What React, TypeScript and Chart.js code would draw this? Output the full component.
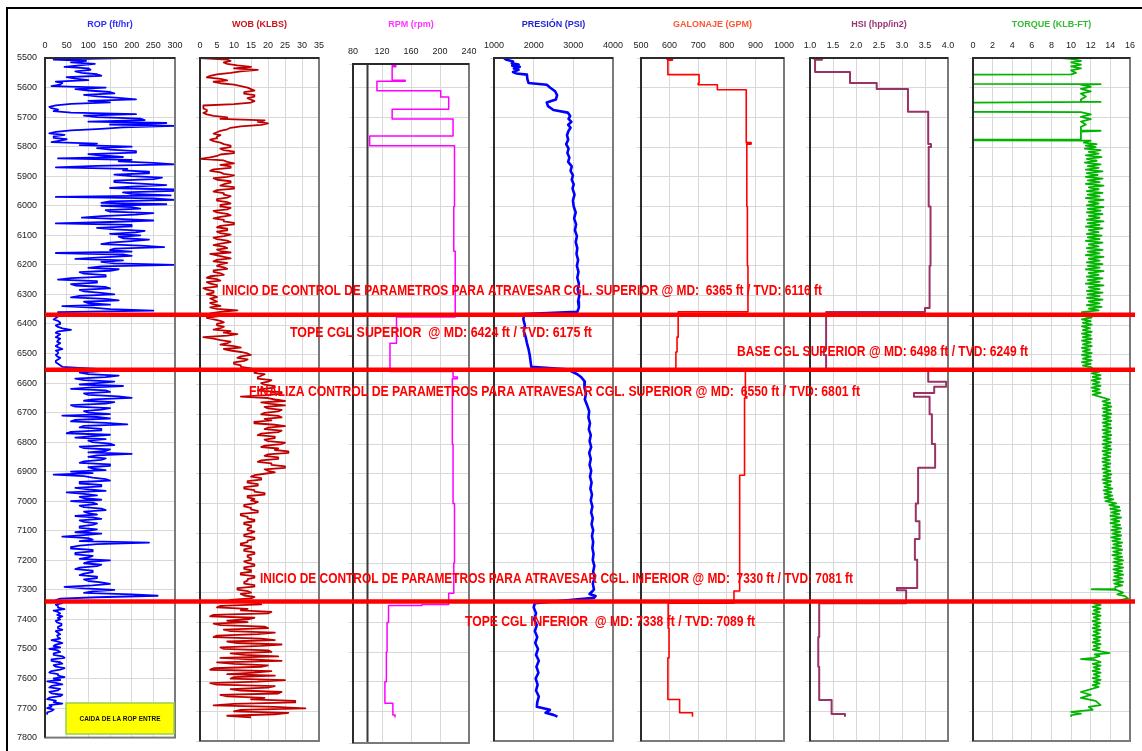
import { useEffect, useRef } from "react";
import { Chart, registerables } from "chart.js";

Chart.register(...registerables);

const PAGE_W = 1142;
const PAGE_H = 751;

// Measured depth axis (ft)
const DEPTH_TOP = 5500;
const DEPTH_BOTTOM = 7800;
const DEPTH_TICK = 100;

// ROP and WOB are logged every 5 ft starting at DEPTH_TOP
const SAMPLE_STEP = 5;

// ROP (ft/hr), one row per 100 ft
const ROP_FT_HR = [
  180, 20, 95, 60, 115, 80, 45, 100, 105, 70, 85, 120, 130, 50, 70, 100, 25, 40, 35, 15, // 5500
  140, 70, 100, 150, 160, 90, 120, 170, 210, 100, 150, 60, 25, 10, 15, 30, 20, 60, 210, 90, // 5600
  120, 220, 230, 100, 280, 150, 300, 180, 130, 60, 25, 10, 45, 20, 20, 50, 35, 15, 120, 80, // 5700
  200, 120, 150, 210, 210, 100, 130, 180, 30, 200, 170, 250, 300, 120, 25, 190, 180, 240, 240, 160, // 5800
  200, 270, 250, 160, 160, 220, 280, 200, 150, 300, 300, 180, 200, 290, 25, 250, 300, 150, 130, 280, // 5900
  130, 200, 220, 140, 150, 250, 210, 130, 85, 180, 250, 150, 25, 200, 200, 120, 160, 230, 210, 150, // 6000
  220, 170, 180, 240, 200, 150, 130, 220, 275, 160, 150, 200, 25, 180, 200, 130, 70, 180, 130, 160, // 6100
  300, 130, 100, 170, 150, 80, 90, 140, 140, 60, 30, 120, 120, 60, 70, 140, 150, 80, 90, 130, // 6200
  160, 80, 60, 140, 170, 90, 100, 150, 40, 110, 150, 250, 30, 60, 20, 30, 25, 20, 30, 35, // 6300
  35, 25, 30, 40, 60, 30, 25, 35, 30, 25, 35, 30, 28, 35, 30, 25, 32, 40, 25, 30, // 6400
  30, 25, 28, 35, 30, 25, 25, 30, 35, 40, 90, 150, 130, 80, 100, 170, 140, 70, 90, 160, // 6500
  120, 80, 180, 110, 60, 140, 150, 90, 100, 170, 200, 110, 90, 160, 140, 60, 70, 150, 130, 90, // 6600
  100, 150, 40, 120, 150, 70, 60, 140, 190, 90, 80, 130, 130, 60, 50, 150, 110, 70, 140, 100, // 6700
  110, 150, 160, 80, 90, 150, 140, 100, 200, 120, 100, 140, 130, 90, 80, 150, 150, 100, 110, 140, // 6800
  60, 110, 20, 90, 110, 140, 150, 80, 80, 130, 130, 70, 100, 140, 50, 90, 120, 80, 90, 130, // 6900
  60, 110, 120, 80, 90, 130, 140, 90, 100, 120, 70, 110, 130, 80, 90, 120, 110, 80, 80, 120, // 7000
  100, 70, 130, 90, 40, 100, 110, 80, 240, 120, 80, 60, 60, 110, 110, 70, 70, 110, 100, 80, // 7100
  150, 100, 90, 130, 120, 80, 70, 110, 110, 90, 80, 120, 120, 90, 100, 130, 150, 110, 45, 90, // 7200
  160, 110, 90, 200, 260, 120, 35, 25, 30, 40, 25, 30, 30, 45, 20, 30, 35, 28, 40, 30, // 7300
  35, 25, 28, 38, 38, 30, 30, 40, 25, 30, 35, 28, 30, 35, 15, 30, 40, 25, 20, 35, // 7400
  10, 30, 35, 20, 20, 40, 45, 15, 15, 35, 40, 20, 25, 45, 35, 15, 10, 30, 30, 45, // 7500
  20, 35, 5, 25, 40, 15, 10, 35, 30, 10, 15, 40, 35, 10, 5, 25, 20, 40, 10, 15, // 7600
  5, 20, 15, 5, 5, // 7700
];

// WOB (klbs), one row per 100 ft
const WOB_KLBS = [
  0, 8, 9, 7, 8, 11, 15, 10, 17, 12, 9, 5, 3, 2, 6, 8, 4, 6, 10, 12, // 5500
  14, 15, 16, 13, 13, 16, 16, 14, 15, 16, 15, 10, 1, 1, 1, 2, 2, 1, 2, 4, // 5600
  8, 6, 19, 17, 20, 18, 12, 9, 8, 6, 5, 4, 6, 5, 5, 3, 4, 6, 7, 9, // 5700
  9, 6, 7, 10, 10, 6, 5, 3, 0, 7, 8, 10, 6, 9, 9, 4, 3, 6, 7, 10, // 5800
  8, 4, 5, 9, 9, 7, 6, 10, 10, 5, 4, 7, 7, 9, 8, 5, 5, 8, 9, 6, // 5900
  6, 9, 8, 4, 5, 8, 9, 6, 4, 7, 7, 10, 10, 6, 5, 8, 8, 5, 6, 9, // 6000
  7, 4, 5, 8, 9, 6, 4, 7, 8, 5, 6, 9, 3, 5, 7, 9, 5, 4, 8, 6, // 6100
  5, 7, 8, 4, 4, 6, 7, 3, 2, 5, 6, 2, 3, 5, 5, 1, 2, 4, 4, 2, // 6200
  4, 5, 3, 4, 5, 3, 4, 6, 3, 5, 11, 6, 3, 5, 5, 2, 4, 6, 7, 5, // 6300
  5, 7, 6, 4, 9, 7, 11, 8, 1, 4, 6, 9, 8, 6, 10, 12, 7, 9, 12, 14, // 6400
  15, 12, 11, 14, 13, 10, 10, 12, 12, 15, 14, 17, 16, 19, 18, 17, 17, 21, 20, 18, // 6500
  19, 22, 22, 18, 17, 24, 24, 20, 12, 20, 22, 25, 18, 21, 25, 19, 20, 24, 23, 19, // 6600
  18, 23, 24, 19, 21, 16, 16, 22, 25, 20, 19, 24, 23, 18, 17, 22, 22, 19, 20, 25, // 6700
  24, 19, 18, 23, 22, 26, 26, 20, 19, 23, 23, 18, 17, 21, 21, 25, 25, 19, 20, 22, // 6800
  19, 16, 15, 18, 18, 14, 14, 17, 17, 13, 13, 16, 16, 19, 19, 14, 14, 16, 15, 17, // 6900
  16, 13, 13, 15, 15, 17, 17, 12, 12, 14, 14, 16, 16, 13, 13, 15, 15, 14, 14, 16, // 7000
  15, 13, 13, 16, 16, 14, 14, 12, 12, 15, 15, 13, 13, 16, 16, 14, 14, 15, 15, 13, // 7100
  14, 16, 16, 13, 13, 15, 15, 12, 12, 16, 16, 14, 14, 13, 13, 16, 16, 11, 11, 14, // 7200
  15, 12, 13, 16, 15, 9, 8, 17, 18, 6, 5, 14, 12, 21, 20, 4, 3, 16, 14, 8, // 7300
  14, 4, 6, 19, 20, 7, 9, 22, 17, 5, 4, 18, 22, 8, 11, 24, 18, 6, 7, 20, // 7400
  21, 9, 13, 23, 6, 15, 24, 5, 10, 20, 18, 4, 3, 21, 16, 8, 22, 10, 9, 25, // 7500
  17, 3, 5, 22, 20, 9, 12, 24, 23, 6, 8, 19, 15, 28, 28, 10, 4, 22, 31, 12, // 7600
  10, 26, 22, 8, 15, // 7700
];

// Step curves: [depth where the value starts, value]
const RPM_STEPS: [number, number][] = [
  [5520, 134], [5525, 139], [5529, 134], [5575, 152], [5578, 113], [5610, 201],
  [5631, 212], [5672, 134], [5705, 218], [5762, 103], [5795, 220], [6000, 219],
  [6150, 221], [6372, 140], [6460, 131], [6555, 218], [6574, 224], [6580, 217],
  [6800, 218], [7000, 220], [7200, 219], [7302, 212], [7340, 175], [7343, 129],
  [7400, 127], [7500, 126], [7600, 124], [7672, 135], [7712, 138], [7720, 138],
];

// Standpipe pressure (psi): [depth, value]
const PRESION_PSI: [number, number][] = [
  [5500, 1250], [5505, 1300], [5512, 1480], [5518, 1450], [5522, 1620], [5526, 1460],
  [5530, 1650], [5535, 1500], [5540, 1620], [5547, 1480], [5552, 1560], [5556, 1830],
  [5570, 1840], [5584, 1870], [5590, 2330], [5600, 2420], [5612, 2540], [5625, 2590],
  [5640, 2560], [5650, 2330], [5662, 2360], [5675, 2500], [5684, 2860], [5695, 2920],
  [5705, 2880], [5715, 2950], [5725, 2870], [5735, 2930], [5745, 2880], [5760, 2840],
  [5775, 2870], [5790, 2820], [5805, 2880], [5820, 2850], [5835, 2900], [5850, 2870],
  [5865, 2960], [5880, 2930], [5895, 2990], [5910, 2960], [5925, 3010], [5940, 2980],
  [5960, 3030], [5980, 2990], [6000, 3010], [6020, 3060], [6040, 3020], [6060, 3070],
  [6080, 3040], [6100, 3090], [6120, 3060], [6140, 3100], [6160, 3080], [6180, 3120],
  [6200, 3090], [6220, 3130], [6240, 3100], [6260, 3140], [6280, 3110], [6300, 3150],
  [6320, 3120], [6340, 3140], [6355, 3100], [6362, 1760], [6380, 1740], [6400, 1780],
  [6420, 1750], [6440, 1800], [6460, 1830], [6480, 1870], [6500, 1900], [6520, 1920],
  [6540, 1940], [6548, 2840], [6555, 2950], [6565, 3100], [6575, 3200], [6590, 3290],
  [6610, 3280], [6630, 3320], [6650, 3290], [6670, 3350], [6690, 3400], [6710, 3380],
  [6730, 3420], [6750, 3390], [6770, 3440], [6790, 3410], [6810, 3450], [6830, 3400],
  [6850, 3440], [6870, 3410], [6890, 3450], [6910, 3420], [6930, 3460], [6950, 3430],
  [6970, 3470], [6990, 3440], [7010, 3480], [7030, 3450], [7050, 3490], [7070, 3460],
  [7090, 3500], [7110, 3470], [7130, 3500], [7150, 3480], [7170, 3510], [7190, 3490],
  [7210, 3530], [7230, 3500], [7250, 3540], [7270, 3490], [7290, 3520], [7305, 3410],
  [7312, 3560], [7318, 3520], [7336, 2030], [7350, 2000], [7370, 2060], [7390, 2010],
  [7410, 2080], [7430, 2030], [7450, 2090], [7470, 2040], [7490, 2110], [7510, 2060],
  [7530, 2130], [7550, 2070], [7570, 2120], [7590, 2050], [7610, 2100], [7630, 2060],
  [7650, 2130], [7670, 2090], [7685, 2080], [7695, 2410], [7705, 2300], [7712, 2500],
  [7718, 2600],
];

// Flow rate (gpm)
const GALONAJE_STEPS: [number, number][] = [
  [5500, 590], [5503, 610], [5507, 594], [5556, 703], [5585, 700], [5590, 767],
  [5607, 868], [5785, 885], [5790, 870], [6000, 872], [6200, 874], [6355, 630],
  [6440, 626], [6490, 622], [6551, 865], [6640, 870], [6645, 862], [6905, 845],
  [7295, 825], [7336, 595], [7420, 598], [7520, 594], [7660, 635], [7705, 680],
  [7718, 680],
];

// Hydraulic horsepower per square inch (hhp/in2)
const HSI_STEPS: [number, number][] = [
  [5500, 1.07], [5502, 1.26], [5506, 1.11], [5547, 1.87], [5584, 2.45], [5604, 3.13],
  [5681, 3.57], [5790, 3.63], [5800, 3.58], [6000, 3.62], [6200, 3.6], [6342, 3.5],
  [6355, 1.35], [6480, 1.3], [6500, 1.35], [6551, 3.57], [6590, 3.96], [6607, 3.7],
  [6628, 3.26], [6641, 3.6], [6700, 3.65], [6800, 3.72], [6880, 3.35], [7000, 3.3],
  [7060, 3.38], [7120, 3.28], [7190, 3.33], [7285, 2.89], [7292, 3.09], [7336, 1.2],
  [7450, 1.18], [7550, 1.2], [7662, 1.47], [7709, 1.76], [7718, 1.76],
];

// Torque (klb-ft): [depth, value]
const TORQUE_KLB_FT: [number, number][] = [
  [5500, 9], [5503, 10], [5510, 11], [5515, 10], [5522, 11], [5528, 10], [5535, 11],
  [5542, 10], [5550, 10.5], [5555, 10], [5556, 0], [5587, 0], [5588, 13], [5590, 11],
  [5597, 12], [5604, 11], [5612, 12], [5620, 11], [5630, 11.5], [5640, 11], [5647, 11],
  [5648, 13], [5650, 0], [5681, 0], [5682, 11], [5690, 12], [5698, 11], [5706, 12],
  [5714, 11], [5724, 11.5], [5732, 11], [5744, 11], [5745, 13], [5748, 11], [5774, 11],
  [5775, 0], [5777, 0], [5778, 12], [5785, 11.3], [5790, 12.6], [5795, 11.5], [5800, 12.5],
  [5805, 11.4], [5810, 13], [5816, 11.8], [5822, 12.8], [5828, 11.5], [5834, 13.1], [5840, 11.6],
  [5846, 12.6], [5852, 11.4], [5858, 13], [5864, 11.7], [5870, 12.8], [5876, 11.5], [5882, 13.2],
  [5888, 11.6], [5894, 12.7], [5900, 11.5], [5906, 13.2], [5912, 11.7], [5918, 12.9], [5924, 11.5],
  [5930, 13.3], [5936, 11.8], [5942, 12.8], [5948, 11.6], [5954, 13.2], [5960, 11.7], [5966, 12.9],
  [5972, 11.5], [5978, 13.3], [5984, 11.8], [5990, 12.8], [5996, 11.6], [6002, 13.3], [6008, 11.7],
  [6014, 13], [6020, 11.6], [6026, 13.2], [6032, 11.8], [6038, 12.9], [6044, 11.6], [6050, 13.3],
  [6056, 11.7], [6062, 12.9], [6068, 11.5], [6074, 13.2], [6080, 11.8], [6086, 12.8], [6092, 11.6],
  [6098, 13.1], [6104, 11.7], [6110, 12.9], [6116, 11.5], [6122, 13.2], [6128, 11.8], [6134, 12.8],
  [6140, 11.6], [6146, 13.2], [6152, 11.7], [6158, 12.9], [6164, 11.5], [6170, 13.3], [6176, 11.8],
  [6182, 12.9], [6188, 11.6], [6194, 13.2], [6200, 11.7], [6206, 12.9], [6212, 11.5], [6218, 13.3],
  [6224, 11.8], [6230, 12.8], [6236, 11.6], [6242, 13.2], [6248, 11.7], [6254, 12.9], [6260, 11.5],
  [6266, 13.3], [6272, 11.8], [6278, 12.9], [6284, 11.6], [6290, 13.2], [6296, 11.7], [6302, 12.9],
  [6308, 11.6], [6314, 13.2], [6320, 11.8], [6326, 12.9], [6332, 11.6], [6338, 13.1], [6344, 11.8],
  [6350, 12.8], [6356, 11.1], [6362, 12], [6368, 11.2], [6374, 12.1], [6380, 11.1], [6386, 12],
  [6392, 11.2], [6398, 12.1], [6404, 11.1], [6410, 11.9], [6416, 11.2], [6422, 12.1], [6428, 11.1],
  [6434, 12], [6440, 11.2], [6446, 12.1], [6452, 11.1], [6458, 12], [6464, 11.2], [6470, 12.1],
  [6476, 11.1], [6482, 11.9], [6488, 11.2], [6494, 12.1], [6500, 11.1], [6506, 12], [6512, 11.2],
  [6518, 12.1], [6524, 11.1], [6530, 12], [6536, 11.2], [6542, 12.1], [6550, 12.2], [6556, 12.9],
  [6562, 12.1], [6568, 13], [6574, 12.2], [6580, 13], [6586, 12.1], [6592, 12.9], [6598, 12.2],
  [6604, 13], [6610, 12.1], [6616, 12.9], [6622, 12.2], [6628, 13], [6634, 12.2], [6640, 12.9],
  [6650, 13.9], [6656, 13.2], [6662, 14], [6668, 13.3], [6674, 14.1], [6680, 13.2], [6686, 14],
  [6692, 13.3], [6698, 14.1], [6704, 13.2], [6710, 14], [6716, 13.3], [6722, 14.1], [6728, 13.2],
  [6734, 14], [6740, 13.3], [6746, 14.1], [6752, 13.2], [6758, 14], [6764, 13.3], [6770, 14.1],
  [6776, 13.2], [6782, 14], [6788, 13.3], [6794, 14.1], [6800, 13.2], [6806, 14], [6812, 13.3],
  [6818, 14.1], [6824, 13.2], [6830, 14], [6836, 13.3], [6842, 14], [6848, 13.2], [6854, 13.9],
  [6860, 13.2], [6866, 14], [6872, 13.3], [6878, 13.9], [6884, 13.2], [6890, 14], [6896, 13.3],
  [6902, 14.1], [6908, 13.3], [6914, 14], [6920, 13.2], [6926, 14.1], [6932, 13.3], [6938, 14],
  [6944, 13.4], [6950, 14.2], [6956, 13.3], [6962, 14.1], [6968, 13.4], [6974, 14.2], [6980, 13.4],
  [6986, 14.3], [6992, 13.5], [7000, 14.6], [7006, 13.9], [7012, 14.9], [7018, 14], [7024, 15],
  [7030, 14.1], [7036, 14.9], [7042, 14], [7048, 15.1], [7054, 14.1], [7060, 14.9], [7066, 14],
  [7072, 15], [7078, 14.2], [7084, 15.1], [7090, 14.1], [7096, 15], [7102, 14.2], [7108, 15.1],
  [7114, 14.1], [7120, 15], [7126, 14.2], [7132, 15.2], [7138, 14.3], [7144, 15.1], [7150, 14.2],
  [7156, 15.2], [7162, 14.3], [7168, 15.1], [7174, 14.2], [7180, 15.2], [7186, 14.4], [7192, 15.3],
  [7198, 14.3], [7204, 15.2], [7210, 14.4], [7216, 15.3], [7222, 14.3], [7228, 15.2], [7234, 14.4],
  [7240, 15.3], [7246, 14.4], [7252, 15.2], [7258, 14.3], [7264, 15.3], [7270, 14.4], [7276, 15.2],
  [7282, 14.5], [7288, 14.5], [7289, 12.1], [7291, 14.6], [7300, 15.3], [7306, 14.7], [7312, 15.5],
  [7320, 15.8], [7326, 15], [7336, 12.2], [7342, 13], [7348, 12.2], [7354, 13], [7360, 12.3],
  [7366, 12.9], [7372, 12.2], [7378, 13], [7384, 12.3], [7390, 12.9], [7396, 12.2], [7402, 13],
  [7408, 12.3], [7414, 12.9], [7420, 12.2], [7426, 13], [7432, 12.3], [7438, 12.9], [7444, 12.2],
  [7450, 13], [7456, 12.3], [7462, 12.9], [7468, 12.2], [7474, 13], [7480, 12.3], [7486, 12.9],
  [7492, 12.2], [7498, 13], [7504, 13.9], [7508, 12.4], [7514, 12.9], [7520, 12.3], [7524, 11],
  [7528, 12.5], [7534, 13], [7540, 12.2], [7546, 13], [7552, 12.3], [7558, 12.9], [7564, 12.2],
  [7570, 13], [7576, 12.3], [7582, 12.9], [7588, 12.2], [7594, 13], [7600, 12.3], [7606, 12.9],
  [7612, 12.2], [7618, 12.8], [7624, 12.2], [7635, 11], [7645, 12], [7655, 11], [7665, 12.5],
  [7679, 13], [7685, 11.8], [7695, 12.2], [7702, 10], [7708, 11], [7713, 10], [7716, 10],
];

// Formation / control markers (MD, ft)
const MARKER_DEPTHS = [6365, 6550, 7330];

const ANNOTATION_TEXTS = [
  "INICIO DE CONTROL DE PARAMETROS PARA ATRAVESAR CGL. SUPERIOR @ MD:  6365 ft / TVD: 6116 ft",
  "TOPE CGL SUPERIOR  @ MD: 6424 ft / TVD: 6175 ft",
  "BASE CGL SUPERIOR @ MD: 6498 ft / TVD: 6249 ft",
  "FINALIZA CONTROL DE PARAMETROS PARA ATRAVESAR CGL. SUPERIOR @ MD:  6550 ft / TVD: 6801 ft",
  "INICIO DE CONTROL DE PARAMETROS PARA ATRAVESAR CGL. INFERIOR @ MD:  7330 ft / TVD: 7081 ft",
  "TOPE CGL INFERIOR  @ MD: 7338 ft / TVD: 7089 ft",
];
const NOTE_TEXT = "CAIDA DE LA ROP ENTRE";

// ---- layout & styling ----
const ANNOTATION_LAYOUT = [
  { left: 222, width: 600, y: 291 },
  { left: 290, width: 302, y: 333 },
  { left: 737, width: 291, y: 352 },
  { left: 249, width: 611, y: 392 },
  { left: 260, width: 593, y: 579 },
  { left: 465, width: 290, y: 622 },
];
const NOTE_BOX = { left: 66, top: 703, width: 108, height: 31, textWidth: 81 };

const TITLE_TOP = 19;
const GRID_COLOR = "#d9d9d9";
const FONT_FAMILY = '"Liberation Sans", Arial, sans-serif';

type Pt = { x: number; y: number };

const fromSamples = (values: number[]): Pt[] =>
  values.map((v, i) => ({ x: v, y: DEPTH_TOP + i * SAMPLE_STEP }));
const fromPairs = (pairs: [number, number][]): Pt[] =>
  pairs.map(([d, v]) => ({ x: v, y: d }));

interface Track {
  title: string;
  titleColor: string;
  lineColor: string;
  lineWidth: number;
  min: number;
  max: number;
  step: number;
  decimals: number;
  stepped: boolean;
  points: Pt[];
  left: number;
  right: number;
  top: number;
  bottom: number;
  depthMin: number;
  depthMax: number;
  depthLabels: boolean;
  innerRule: number | null;
}

const TRACKS: Track[] = [
  {
    title: "ROP (ft/hr)", titleColor: "#2b2bff", lineColor: "#0000ff", lineWidth: 1.8,
    min: 0, max: 300, step: 50, decimals: 0, stepped: false, points: fromSamples(ROP_FT_HR),
    left: 45, right: 175, top: 58, bottom: 741, depthMin: DEPTH_TOP, depthMax: DEPTH_BOTTOM,
    depthLabels: true, innerRule: null,
  },
  {
    title: "WOB (KLBS)", titleColor: "#c8141e", lineColor: "#c00000", lineWidth: 1.8,
    min: 0, max: 35, step: 5, decimals: 0, stepped: false, points: fromSamples(WOB_KLBS),
    left: 200, right: 319, top: 58, bottom: 741, depthMin: DEPTH_TOP, depthMax: DEPTH_BOTTOM,
    depthLabels: false, innerRule: null,
  },
  {
    title: "RPM (rpm)", titleColor: "#ff33ff", lineColor: "#ff00ff", lineWidth: 1.5,
    min: 80, max: 240, step: 40, decimals: 0, stepped: true, points: fromPairs(RPM_STEPS),
    left: 353, right: 469, top: 64, bottom: 743, depthMin: 5520, depthMax: 7806,
    depthLabels: false, innerRule: 100,
  },
  {
    title: "PRESIÓN (PSI)", titleColor: "#1f1fd6", lineColor: "#0000ff", lineWidth: 2.6,
    min: 1000, max: 4000, step: 1000, decimals: 0, stepped: false, points: fromPairs(PRESION_PSI),
    left: 494, right: 613, top: 58, bottom: 741, depthMin: DEPTH_TOP, depthMax: DEPTH_BOTTOM,
    depthLabels: false, innerRule: null,
  },
  {
    title: "GALONAJE (GPM)", titleColor: "#ff5533", lineColor: "#ff0000", lineWidth: 1.6,
    min: 500, max: 1000, step: 100, decimals: 0, stepped: true, points: fromPairs(GALONAJE_STEPS),
    left: 641, right: 784, top: 58, bottom: 741, depthMin: DEPTH_TOP, depthMax: DEPTH_BOTTOM,
    depthLabels: false, innerRule: null,
  },
  {
    title: "HSI (hpp/in2)", titleColor: "#9a3472", lineColor: "#993366", lineWidth: 2,
    min: 1, max: 4, step: 0.5, decimals: 1, stepped: true, points: fromPairs(HSI_STEPS),
    left: 810, right: 948, top: 58, bottom: 741, depthMin: DEPTH_TOP, depthMax: DEPTH_BOTTOM,
    depthLabels: false, innerRule: null,
  },
  {
    title: "TORQUE (KLB-FT)", titleColor: "#33bb33", lineColor: "#00b400", lineWidth: 1.8,
    min: 0, max: 16, step: 2, decimals: 0, stepped: false, points: fromPairs(TORQUE_KLB_FT),
    left: 973, right: 1133, top: 58, bottom: 741, depthMin: DEPTH_TOP, depthMax: DEPTH_BOTTOM,
    depthLabels: false, innerRule: null,
  },
];

// Draws the panel border (and the optional extra rule inside the RPM track)
const trackFrame = {
  id: "trackFrame",
  afterDatasetsDraw(chart: any, _args: unknown, opts: any) {
    const { ctx, chartArea: a } = chart;
    ctx.save();
    ctx.lineWidth = 2;
    if (opts && typeof opts.innerRule === "number") {
      const x = chart.scales.x.getPixelForValue(opts.innerRule);
      ctx.strokeStyle = "#3a3a3a";
      ctx.beginPath();
      ctx.moveTo(x, a.top);
      ctx.lineTo(x, a.bottom);
      ctx.stroke();
    }
    ctx.strokeStyle = "#7a7a7a";
    ctx.strokeRect(a.left, a.top, a.right - a.left, a.bottom - a.top);
    ctx.strokeStyle = "#2b2b2b";
    ctx.beginPath();
    ctx.moveTo(a.left, a.bottom);
    ctx.lineTo(a.left, a.top);
    ctx.lineTo(a.right, a.top);
    ctx.stroke();
    ctx.restore();
  },
};

// Red marker captions and the yellow note box
const annotationLayer = {
  id: "annotationLayer",
  afterDatasetsDraw(chart: any) {
    const { ctx } = chart;
    ctx.save();
    ctx.fillStyle = "#ff0000";
    ctx.textBaseline = "middle";
    ctx.textAlign = "left";
    ctx.font = `bold 14px ${FONT_FAMILY}`;
    ANNOTATION_TEXTS.forEach((text, i) => {
      const b = ANNOTATION_LAYOUT[i];
      const w = ctx.measureText(text).width;
      ctx.save();
      ctx.translate(b.left, b.y);
      ctx.scale(b.width / w, 1);
      ctx.fillText(text, 0, 0);
      ctx.restore();
    });

    const n = NOTE_BOX;
    ctx.fillStyle = "#ffff00";
    ctx.fillRect(n.left, n.top, n.width, n.height);
    ctx.strokeStyle = "#9ccf4a";
    ctx.lineWidth = 1.5;
    ctx.strokeRect(n.left, n.top, n.width, n.height);
    ctx.fillStyle = "#111";
    ctx.font = `bold 8px ${FONT_FAMILY}`;
    ctx.textAlign = "center";
    const tw = ctx.measureText(NOTE_TEXT).width;
    ctx.save();
    ctx.translate(n.left + n.width / 2, n.top + n.height / 2);
    ctx.scale(n.textWidth / tw, 1);
    ctx.fillText(NOTE_TEXT, 0, 0);
    ctx.restore();
    ctx.restore();
  },
};

function trackConfig(t: Track): any {
  const yWidth = t.depthLabels ? t.left : 5;
  return {
    type: "line",
    data: {
      datasets: [
        {
          data: t.points,
          borderColor: t.lineColor,
          borderWidth: t.lineWidth,
          borderJoinStyle: "round",
          pointRadius: 0,
          fill: false,
          tension: 0,
          stepped: t.stepped ? "after" : false,
        },
      ],
    },
    options: {
      responsive: false,
      animation: false,
      devicePixelRatio: 1,
      events: [],
      indexAxis: "y",
      layout: {
        padding: {
          left: t.left - yWidth,
          right: PAGE_W - t.right,
          top: TITLE_TOP,
          bottom: PAGE_H - t.bottom,
        },
      },
      plugins: {
        legend: { display: false },
        tooltip: { enabled: false },
        trackFrame: { innerRule: t.innerRule },
      },
      scales: {
        x: {
          type: "linear",
          position: "top",
          min: t.min,
          max: t.max,
          afterFit: (s: any) => {
            s.height = t.top - TITLE_TOP;
          },
          ticks: {
            stepSize: t.step,
            autoSkip: false,
            maxRotation: 0,
            padding: 7,
            color: "#222",
            font: { family: FONT_FAMILY, size: 9 },
            callback: (v: number) => Number(v).toFixed(t.decimals),
          },
          grid: { color: GRID_COLOR, lineWidth: 1, drawTicks: false },
          border: { display: false },
          title: {
            display: true,
            text: t.title,
            color: t.titleColor,
            padding: 0,
            font: { family: FONT_FAMILY, size: 9, weight: "bold" },
          },
        },
        y: {
          type: "linear",
          reverse: true,
          min: t.depthMin,
          max: t.depthMax,
          afterFit: (s: any) => {
            s.width = yWidth;
          },
          ticks: {
            stepSize: DEPTH_TICK,
            display: t.depthLabels,
            padding: 8,
            color: "#222",
            font: { family: FONT_FAMILY, size: 9 },
            callback: (v: number) => String(v),
          },
          grid: {
            color: GRID_COLOR,
            lineWidth: 1,
            drawTicks: !t.depthLabels,
            tickLength: 4,
          },
          border: { display: false },
        },
      },
    },
    plugins: [trackFrame],
  };
}

function overlayConfig(): any {
  const first = TRACKS[0];
  return {
    type: "line",
    data: {
      datasets: MARKER_DEPTHS.map((d) => ({
        data: [
          { x: 0, y: d },
          { x: 1, y: d },
        ],
        borderColor: "#ff0000",
        borderWidth: 4.5,
        pointRadius: 0,
        fill: false,
      })),
    },
    options: {
      responsive: false,
      animation: false,
      devicePixelRatio: 1,
      events: [],
      layout: {
        padding: { left: first.left, right: 7, top: first.top, bottom: PAGE_H - first.bottom },
      },
      plugins: { legend: { display: false }, tooltip: { enabled: false } },
      scales: {
        x: { type: "linear", min: 0, max: 1, display: false },
        y: { type: "linear", min: DEPTH_TOP, max: DEPTH_BOTTOM, reverse: true, display: false },
      },
    },
    plugins: [annotationLayer],
  };
}

const canvasStyle: React.CSSProperties = {
  position: "absolute",
  left: 0,
  top: 0,
  width: PAGE_W,
  height: PAGE_H,
};

export default function App() {
  const trackRefs = useRef<(HTMLCanvasElement | null)[]>([]);
  const overlayRef = useRef<HTMLCanvasElement | null>(null);

  useEffect(() => {
    const charts: Chart[] = [];
    TRACKS.forEach((t, i) => {
      const c = trackRefs.current[i];
      if (c) charts.push(new Chart(c, trackConfig(t)));
    });
    if (overlayRef.current) charts.push(new Chart(overlayRef.current, overlayConfig()));
    return () => charts.forEach((c) => c.destroy());
  }, []);

  return (
    <div
      style={{
        position: "absolute",
        left: 0,
        top: 0,
        width: PAGE_W,
        height: PAGE_H,
        overflow: "hidden",
        background: "#fff",
      }}
    >
      <div
        style={{
          position: "absolute",
          left: 6,
          top: 7,
          width: PAGE_W,
          height: PAGE_H,
          borderLeft: "2px solid #000",
          borderTop: "2px solid #000",
        }}
      />
      {TRACKS.map((t, i) => (
        <canvas
          key={t.title}
          ref={(el) => {
            trackRefs.current[i] = el;
          }}
          width={PAGE_W}
          height={PAGE_H}
          style={canvasStyle}
        />
      ))}
      <canvas ref={overlayRef} width={PAGE_W} height={PAGE_H} style={canvasStyle} />
    </div>
  );
}
